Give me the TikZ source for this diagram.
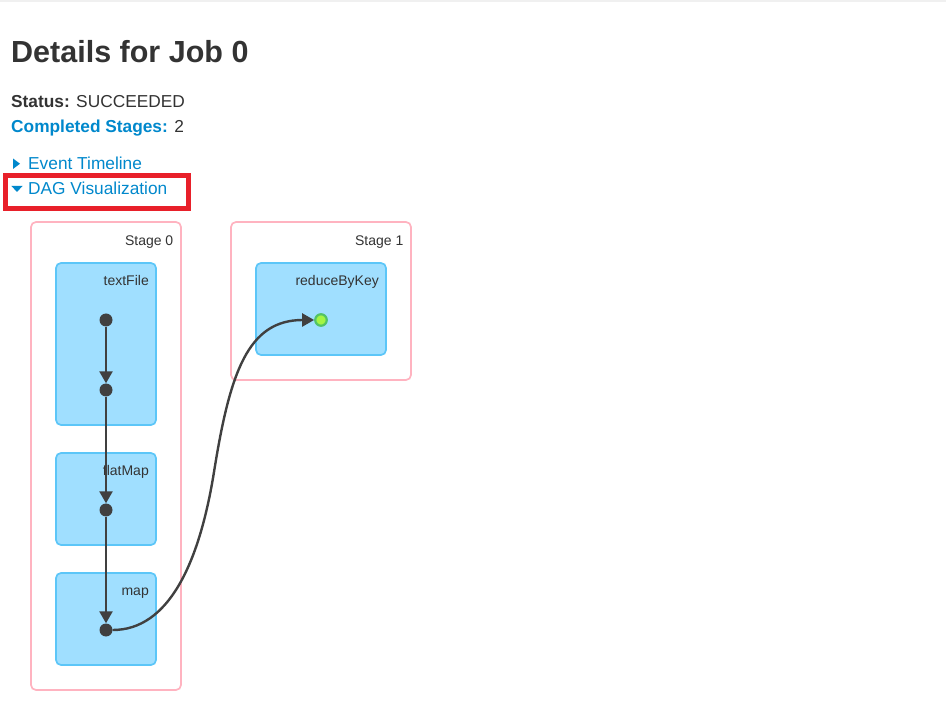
\documentclass[tikz,border=0pt]{standalone}
\usepackage{fontspec}
\setmainfont{Liberation Sans}
\usetikzlibrary{arrows.meta}
\definecolor{txt}{HTML}{333333}
\definecolor{link}{HTML}{0088CC}
\definecolor{stagepink}{HTML}{FFB3C0}
\definecolor{opfill}{HTML}{A0DFFF}
\definecolor{opdraw}{HTML}{5CC6F8}
\definecolor{dotc}{HTML}{404040}
\definecolor{cachedfill}{HTML}{A3F545}
\definecolor{cacheddraw}{HTML}{52C366}
\definecolor{redbox}{HTML}{E8202A}
\tikzset{
  stagebox/.style={draw=stagepink, line width=1.7pt, rounded corners=5pt, fill=white},
  opbox/.style={draw=opdraw, line width=1.7pt, rounded corners=5pt, fill=opfill},
  lbl/.style={anchor=base east, inner sep=0pt, text=txt, font=\fontsize{14}{16}\selectfont},
  dotn/.style={circle, fill=dotc, inner sep=0pt, minimum size=13pt},
  cachedn/.style={circle, fill=cachedfill, draw=cacheddraw, line width=2.2pt, inner sep=0pt, minimum size=11.5pt},
  edge/.style={draw=dotc, line width=2.4pt, -{Triangle[length=12pt,width=13pt]}},
  hdr/.style={anchor=base west, inner sep=0pt, text=txt},
}
\begin{document}
\begin{tikzpicture}[x=1pt,y=-1pt]
\useasboundingbox (0,0) rectangle (946,708);
\fill[white] (0,0) rectangle (946,708);
\draw[black!6, line width=2pt] (0,1) -- (946,1);
% header texts
\node[hdr, font=\fontsize{30.5}{34}\selectfont\bfseries] (title) at (11,63) {Details for Job 0};
\node[hdr, font=\fontsize{17.3}{20}\selectfont] (status) at (11,108) {\textbf{Status:} SUCCEEDED};
\node[hdr, font=\fontsize{17.3}{20}\selectfont] (stages) at (11,133) {\textcolor{link}{\textbf{Completed Stages:}} 2};
\fill[link] (13,158.5) -- (13,169) -- (20,163.75) -- cycle;
\node[hdr, text=link, font=\fontsize{17.3}{20}\selectfont] (evt) at (28,170) {Event Timeline};
\fill[link] (11.3,185.8) -- (22.7,185.8) -- (17,192) -- cycle;
\node[hdr, text=link, font=\fontsize{17.3}{20}\selectfont] (dag) at (28,195) {DAG Visualization};
\draw[redbox, line width=5pt] (5.7,175.2) rectangle (188.3,208.2);
% stages
\draw[stagebox] (31,222) rectangle (181,690);
\draw[stagebox] (231,222) rectangle (411,380);
\node[lbl] (s0) at (173.5,245.5) {Stage 0};
\node[lbl] (s1) at (403.5,245.5) {Stage 1};
% operation boxes
\draw[opbox] (56,263) rectangle (156,425);
\draw[opbox] (56,453) rectangle (156,545);
\draw[opbox] (56,573) rectangle (156,665);
\draw[opbox] (256,263) rectangle (386,355);
\node[lbl] (l1) at (149,286) {textFile};
\node[lbl] (l2) at (149,476) {flatMap};
\node[lbl] (l3) at (149,596) {map};
\node[lbl] (l4) at (379,286) {reduceByKey};
% dots
\node[dotn] (d1) at (106,320) {};
\node[dotn] (d2) at (106,390) {};
\node[dotn] (d3) at (106,510) {};
\node[dotn] (d4) at (106,630) {};
\node[cachedn] (g) at (321,320) {};
\coordinate (cm) at (214,472);
% edges
\draw[edge] (d1) -- (d2);
\draw[edge] (d2) -- (d3);
\draw[edge] (d3) -- (d4);
\draw[edge] (d4.east) .. controls (168,630) and (199,565) .. (cm) .. controls (230,372) and (248,320) .. (g.west);
\end{tikzpicture}
\end{document}
